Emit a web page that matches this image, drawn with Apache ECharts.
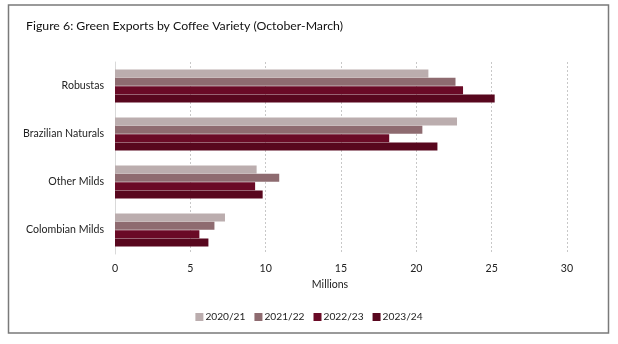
<!DOCTYPE html>
<html><head><meta charset="utf-8">
<script src="https://cdn.jsdelivr.net/npm/echarts@6/dist/echarts.min.js"></script>
<style>html,body{margin:0;padding:0;background:#fff}#c{width:618px;height:344px}</style>
</head><body><div id="c"></div>
<script>
const categories = ['Robustas', 'Brazilian Naturals', 'Other Milds', 'Colombian Milds'];
const seriesNames = ['2020/21', '2021/22', '2022/23', '2023/24'];
const v2020 = [20.8, 22.7, 9.4, 7.3];
const v2021 = [22.6, 20.4, 10.9, 6.6];
const v2022 = [23.1, 18.2, 9.3, 5.6];
const v2023 = [25.2, 21.4, 9.8, 6.2];
const xTicks = [0, 5, 10, 15, 20, 25, 30];
const colors = ['#BBADAE', '#8E6B70', '#6A0A26', '#58071E'];
const values = [v2020, v2021, v2022, v2023];
const FONT = 'Lato';

const chart = echarts.init(document.getElementById('c'), null, {renderer: 'canvas'});
chart.setOption({
  animation: false,
  textStyle: {fontFamily: FONT},
  title: {
    text: 'Figure 6: Green Exports by Coffee Variety (October-March)',
    left: 21, top: 15,
    textStyle: {fontFamily: FONT, fontSize: 12.3, fontWeight: 'normal', color: '#111'}
  },
  graphic: [{
    type: 'rect', silent: true, z: 100,
    shape: {x: 8.5, y: 5, width: 600, height: 328},
    style: {fill: 'none', stroke: '#7a7a7a', lineWidth: 1.5}
  }],
  legend: {
    data: seriesNames,
    top: 307, left: 'center',
    itemWidth: 8, itemHeight: 8, itemGap: 9,
    icon: 'rect',
    textStyle: {fontFamily: FONT, fontSize: 10.2, color: '#222', padding: [0, 0, 0, -3]}
  },
  grid: {left: 115, right: 51, top: 62, bottom: 90, containLabel: false},
  xAxis: {
    type: 'value', min: xTicks[0], max: xTicks[xTicks.length - 1], interval: 5,
    name: 'Millions', nameLocation: 'middle', nameGap: 22,
    nameTextStyle: {fontFamily: FONT, fontSize: 10.6, color: '#222', padding: [0, 22, 0, 0]},
    axisLine: {show: false}, axisTick: {show: false},
    axisLabel: {fontFamily: FONT, fontSize: 10.6, color: '#222', margin: 9},
    splitLine: {show: true, lineStyle: {type: [2, 2], color: '#c8c8c8', width: 1}}
  },
  yAxis: {
    type: 'category', data: categories, inverse: true,
    axisLine: {show: true, lineStyle: {color: '#d9d9d9', width: 1}},
    axisTick: {show: false},
    axisLabel: {fontFamily: FONT, fontSize: 10.6, color: '#222', margin: 11}
  },
  series: seriesNames.map((n, i) => ({
    name: n, type: 'bar', data: values[i],
    barWidth: 8, barGap: '4%', barCategoryGap: '31%',
    itemStyle: {color: colors[i]}
  }))
});
</script></body></html>
